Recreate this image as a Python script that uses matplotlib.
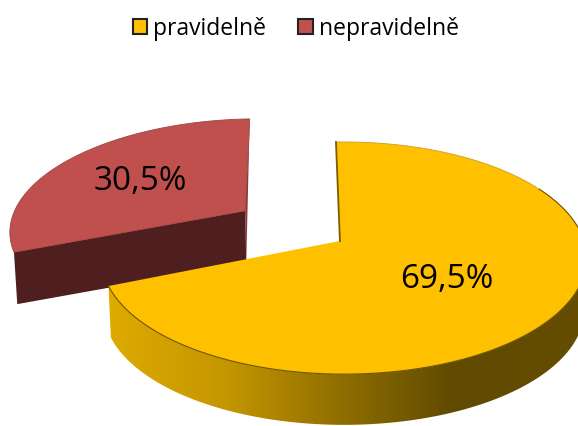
import numpy as np
import matplotlib
matplotlib.use("Agg")
import matplotlib.pyplot as plt
from matplotlib.colors import LinearSegmentedColormap
from matplotlib.patches import Patch, Polygon

# Data
labels = ["pravidelně", "nepravidelně"]
values = [69.5, 30.5]
value_labels = ["69,5%", "30,5%"]
colors = ["#FFC000", "#C0504D"]

# Geometry of the fake 3D pie, in pixels of the 578x426 picture
cx, cy = 344, 241
rad_x, rad_y = 240, 113.6
persp = 0.147
depth = 52
bottom_scale = 0.99
start_deg = -2.2
explode = 0.51
hub_shift = -0.017

plt.rcParams["font.family"] = ["Open Sans", "DejaVu Sans"]


def project(u, v, lower=False):
    # disc coordinates -> picture pixels, with some perspective
    w = 1 + persp * v
    x = rad_x * u / w
    y = -rad_y * v / w
    if lower:
        return cx + bottom_scale * x, cy + bottom_scale * y + depth
    return cx + x, cy + y


def wedge(theta1, theta2, offset=0.0, lower=False, hub=0.0):
    mid = np.radians((theta1 + theta2) / 2)
    du, dv = offset * np.sin(mid), offset * np.cos(mid)
    t = np.radians(np.linspace(theta1, theta2, 300))
    rim_x, rim_y = project(np.sin(t) + du, np.cos(t) + dv, lower)
    tip_x, tip_y = project(du + hub, dv, lower)
    return np.column_stack([rim_x, rim_y]), np.array([tip_x, tip_y]), np.degrees(t)


angles = np.cumsum([0] + values) * 3.6 + start_deg

fig = plt.figure(figsize=(5.78, 4.26), dpi=100)
ax = fig.add_axes([0, 0, 1, 1])

# Red slice goes first, the yellow one overlaps it
rim, tip, _ = wedge(angles[1], angles[2], explode)
rim_low, tip_low, _ = wedge(angles[1], angles[2], explode, lower=True)
ax.add_patch(Polygon([tip, rim[-1], tip_low], fc="#8A3836", ec="none"))
ax.add_patch(Polygon([rim[0], tip, tip_low, rim_low[0]], fc="#4F1F1F", ec="none"))
ax.add_patch(Polygon(np.vstack([[tip], rim]), fc=colors[1], ec="#A04442", lw=0.6))

# Yellow slice, side wall has a left to right gradient
rim, tip, theta = wedge(angles[0], angles[1], hub=hub_shift)
rim_low, tip_low, _ = wedge(angles[0], angles[1], lower=True, hub=hub_shift)
front = theta >= 60
side = Polygon(np.vstack([rim[front], rim_low[front][::-1]]), fc="none", ec="none")
ax.add_patch(side)
side_cmap = LinearSegmentedColormap.from_list(
    "side",
    [(0, "#DFAB00"), (0.25, "#C49600"), (0.5, "#8C6C00"), (0.72, "#604A00"), (1, "#654E00")],
)
img = ax.imshow(
    np.linspace(0, 1, 256).reshape(1, -1),
    cmap=side_cmap,
    extent=[105, 590, 432, 140],
    aspect="auto",
)
img.set_clip_path(side)
ax.add_patch(Polygon(np.vstack([[tip], rim]), fc=colors[0], ec="none"))
ax.plot(rim[front, 0], rim[front, 1], color="#6E5500", lw=0.8)
ax.plot(rim[~front, 0], rim[~front, 1], color="#C9A030", lw=0.6)
ax.plot([rim[0, 0], tip[0]], [rim[0, 1], tip[1]], color="#7A5E00", lw=1.3)

# Value labels
ax.text(447, 279, value_labels[0], fontsize=24, ha="center", va="center", color="black")
ax.text(140, 181, value_labels[1], fontsize=24, ha="center", va="center", color="black")

ax.set_xlim(0, 578)
ax.set_ylim(426, 0)
ax.axis("off")

handles = [Patch(fc=c, ec="#222222", lw=1.5) for c in colors]
ax.legend(
    handles,
    labels,
    ncols=2,
    loc="center",
    bbox_to_anchor=(0.512, 0.932),
    frameon=False,
    fontsize=16.5,
    handlelength=0.62,
    handleheight=0.62,
    handletextpad=0.28,
    columnspacing=1.4,
)

plt.savefig("out.png", dpi=100)
plt.close()
